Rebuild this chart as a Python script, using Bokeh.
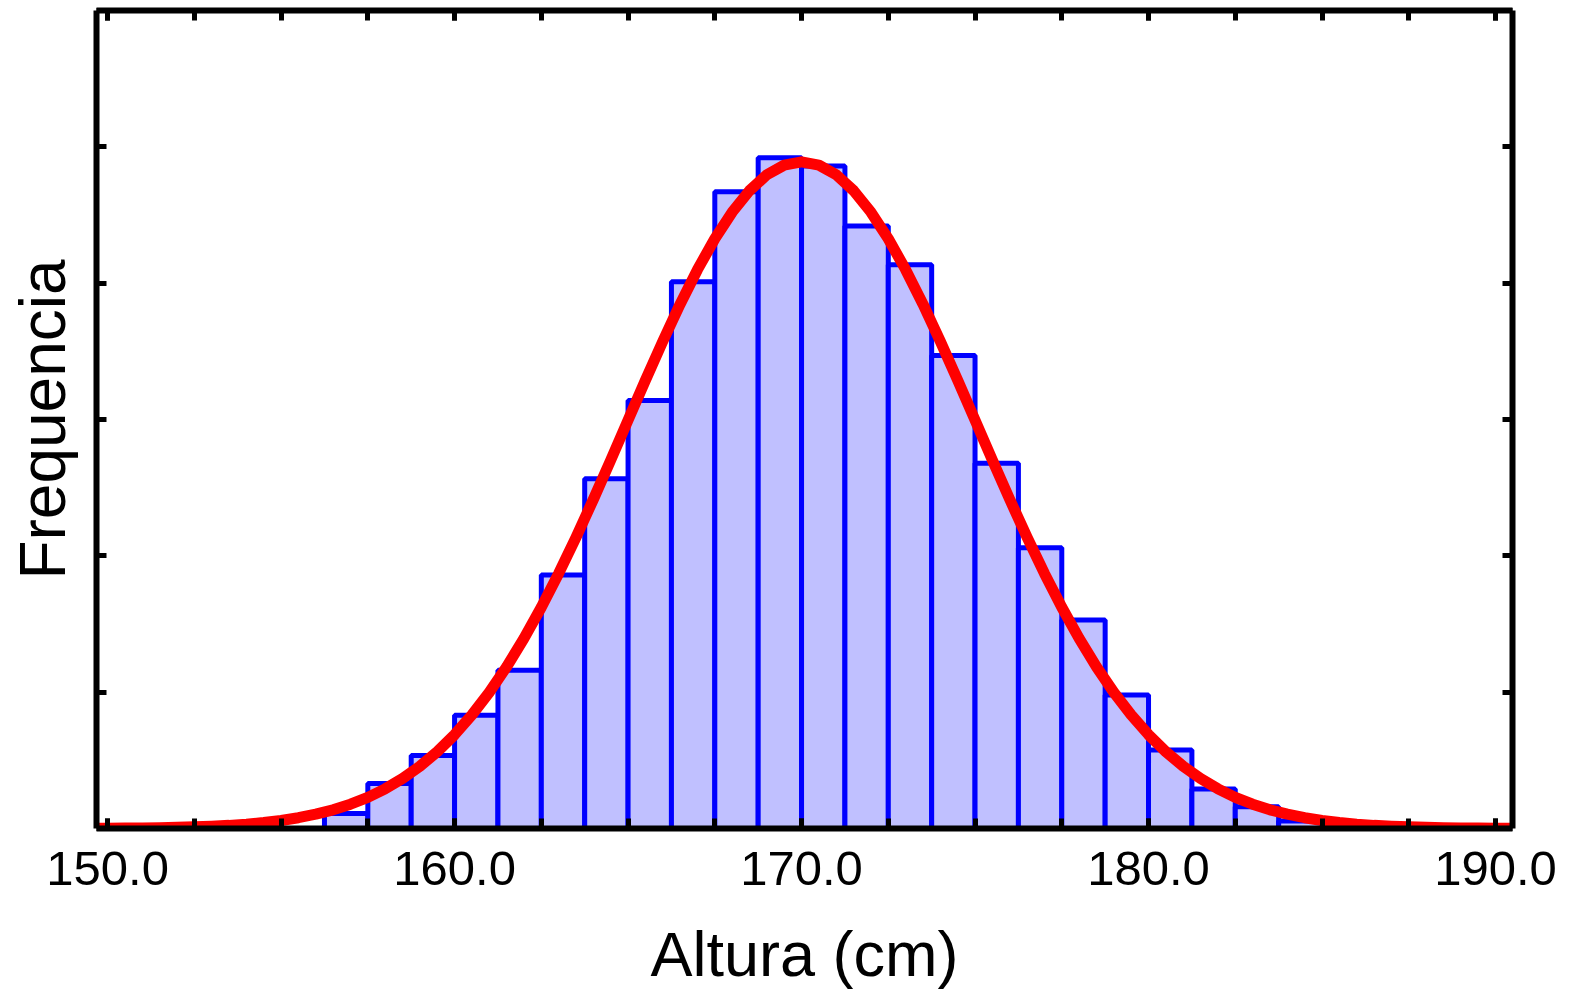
from bokeh.plotting import figure
from bokeh.models import FixedTicker, LinearAxis, Range1d, CustomJSTickFormatter
from bokeh.embed import file_html
from bokeh.resources import INLINE

# ---- data ----
bin_left = [156.25, 157.5, 158.75, 160.0, 161.25, 162.5, 163.75, 165.0, 166.25,
            167.5, 168.75, 170.0, 171.25, 172.5, 173.75, 175.0, 176.25, 177.5,
            178.75, 180.0, 181.25, 182.5, 183.75]
bin_width = 1.25
frequencia = [0.11, 0.33, 0.535, 0.83, 1.16, 1.86, 2.565, 3.14, 4.01,
              4.67, 4.92, 4.86, 4.42, 4.135, 3.47, 2.68, 2.06, 1.53,
              0.98, 0.576, 0.29, 0.16, 0.055]

curve_x = [149.5, 150.0, 150.5, 151.0, 151.5, 152.0, 152.5, 153.0, 153.5, 154.0,
           154.5, 155.0, 155.5, 156.0, 156.5, 157.0, 157.5, 158.0, 158.5, 159.0,
           159.5, 160.0, 160.5, 161.0, 161.5, 162.0, 162.5, 163.0, 163.5, 164.0,
           164.5, 165.0, 165.5, 166.0, 166.5, 167.0, 167.5, 168.0, 168.5, 169.0,
           169.5, 170.0, 170.5, 171.0, 171.5, 172.0, 172.5, 173.0, 173.5, 174.0,
           174.5, 175.0, 175.5, 176.0, 176.5, 177.0, 177.5, 178.0, 178.5, 179.0,
           179.5, 180.0, 180.5, 181.0, 181.5, 182.0, 182.5, 183.0, 183.5, 184.0,
           184.5, 185.0, 185.5, 186.0, 186.5, 187.0, 187.5, 188.0, 188.5, 189.0,
           189.5, 190.0, 190.5]
curve_y = [0.001, 0.002, 0.003, 0.004, 0.006, 0.009, 0.012, 0.017, 0.023, 0.032,
           0.044, 0.059, 0.079, 0.105, 0.137, 0.178, 0.228, 0.291, 0.366, 0.456,
           0.563, 0.688, 0.833, 0.999, 1.186, 1.394, 1.623, 1.871, 2.136, 2.414,
           2.702, 2.995, 3.288, 3.573, 3.846, 4.099, 4.326, 4.521, 4.679, 4.795,
           4.866, 4.890, 4.866, 4.795, 4.679, 4.521, 4.326, 4.099, 3.846, 3.573,
           3.288, 2.995, 2.702, 2.414, 2.136, 1.871, 1.623, 1.394, 1.186, 0.999,
           0.833, 0.688, 0.563, 0.456, 0.366, 0.291, 0.228, 0.178, 0.137, 0.105,
           0.079, 0.059, 0.044, 0.032, 0.023, 0.017, 0.012, 0.009, 0.006, 0.004,
           0.003, 0.002, 0.001]

x_major_ticks = [150, 160, 170, 180, 190]
x_tick_labels = ["150.0", "160.0", "170.0", "180.0", "190.0"]
x_minor_ticks = [150, 152.5, 155, 157.5, 160, 162.5, 165, 167.5, 170, 172.5,
                 175, 177.5, 180, 182.5, 185, 187.5, 190]
y_ticks = [0, 1, 2, 3, 4, 5, 6]

x_title = "Altura (cm)"
y_title = "Frequencia"

# ---- figure ----
p = figure(frame_width=1416, frame_height=818,
           x_range=Range1d(149.68, 190.49), y_range=Range1d(0, 6),
           output_backend="svg", toolbar_location=None,
           min_border_left=96, min_border_right=70,
           min_border_top=10, min_border_bottom=163,
           x_axis_label=x_title, y_axis_label=y_title)
p.outline_line_color = None
p.xgrid.visible = False
p.ygrid.visible = False
p.background_fill_color = "white"
p.border_fill_color = "white"

bin_right = [b + bin_width for b in bin_left]
p.quad(left=bin_left, right=bin_right, bottom=0, top=frequencia,
       fill_color="#C0C0FF", line_color="#0000FF", line_width=5)
p.line(curve_x, curve_y, line_color="#FF0000", line_width=11, line_join="round")

xticker = FixedTicker(ticks=x_major_ticks, minor_ticks=x_minor_ticks)
yticker = FixedTicker(ticks=y_ticks, minor_ticks=[])

xa = p.below[0]
ya = p.left[0]
xa.ticker = xticker
ya.ticker = yticker
xa.major_label_overrides = {t: l for t, l in zip(x_major_ticks, x_tick_labels)}

blank = CustomJSTickFormatter(code="return '';")
top_ax = LinearAxis(ticker=xticker, formatter=blank)
right_ax = LinearAxis(ticker=yticker, formatter=blank)
ya.formatter = blank
p.add_layout(top_ax, "above")
p.add_layout(right_ax, "right")

for ax in [xa, ya, top_ax, right_ax]:
    ax.axis_line_color = "black"
    ax.axis_line_width = 6
    ax.major_tick_in = 10
    ax.major_tick_out = 0
    ax.major_tick_line_width = 5
    ax.major_tick_line_color = "black"
    ax.minor_tick_in = 10
    ax.minor_tick_out = 0
    ax.minor_tick_line_width = 5
    ax.minor_tick_line_color = "black"

for ax in [ya, top_ax, right_ax]:
    ax.major_label_standoff = 0
    ax.major_label_text_font_size = "1px"

xa.major_label_text_font = "Liberation Sans"
xa.major_label_text_font_size = "49px"
xa.major_label_text_color = "black"
xa.major_label_standoff = 23
xa.axis_label_text_font = "Liberation Sans"
xa.axis_label_text_font_size = "63px"
xa.axis_label_text_font_style = "normal"
xa.axis_label_text_color = "black"
xa.axis_label_standoff = 31

ya.axis_label_text_font = "Liberation Sans"
ya.axis_label_text_font_size = "64px"
ya.axis_label_text_font_style = "normal"
ya.axis_label_text_color = "black"
ya.axis_label_standoff = 18

open("out.html", "w").write(file_html(p, INLINE))
